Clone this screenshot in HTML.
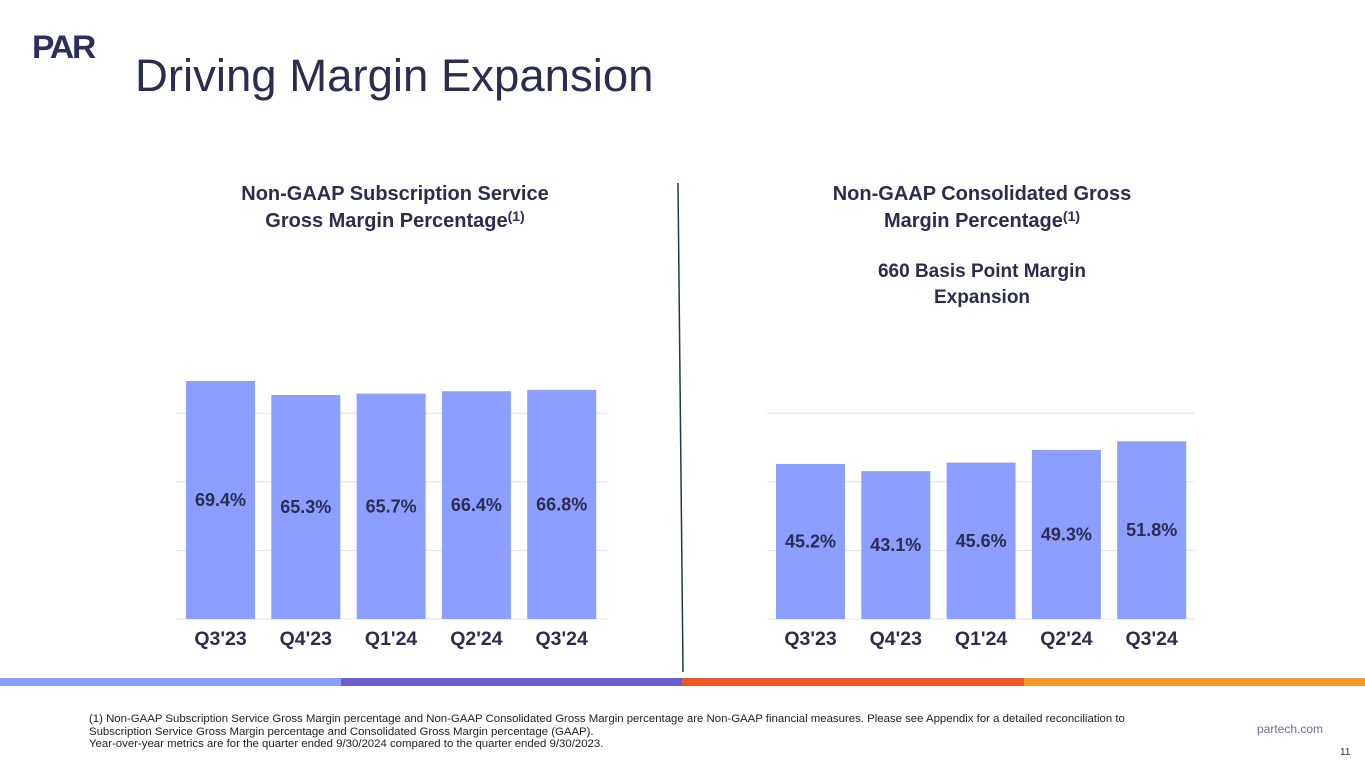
<!DOCTYPE html>
<html><head><meta charset="utf-8"><style>
body{margin:0;width:1365px;height:768px;background:#fff;position:relative;overflow:hidden;font-family:"Liberation Sans",sans-serif;color:#2b2d4f}
.abs{position:absolute}
.ct{font-weight:bold;font-size:20px;text-align:center;line-height:27px;color:#2b2d4f}
sup{font-size:14px;line-height:0;vertical-align:6px}
</style></head><body>
<div class="abs" style="left:32px;top:30px;font-weight:900;font-size:32px;letter-spacing:-2px;color:#2d2f5a;line-height:34px;transform:scaleX(1.05);transform-origin:left">PAR</div>
<div class="abs" style="left:135px;top:49px;font-size:45.5px;line-height:54px;color:#2b2d4f">Driving Margin Expansion</div>
<div class="abs ct" style="left:170px;top:181px;width:450px">Non-GAAP Subscription Service<br>Gross Margin Percentage<sup>(1)</sup></div>
<div class="abs ct" style="left:757px;top:181px;width:450px">Non-GAAP Consolidated Gross<br>Margin Percentage<sup>(1)</sup></div>
<div class="abs ct" style="left:757px;top:259px;width:450px;font-size:19px;line-height:26px">660 Basis Point Margin<br>Expansion</div>
<svg class="abs" style="left:0;top:0" width="1365" height="768">
<line x1="678" y1="183" x2="683" y2="672" stroke="#1f3a4a" stroke-width="1.5"/>
<g id="c1"></g>
<g id="c2"></g>
<rect x="0" y="678" width="341" height="8" fill="#8c9eff"/>
<rect x="341" y="678" width="341" height="8" fill="#6a5fcf"/>
<rect x="682" y="678" width="342" height="8" fill="#f0582a"/>
<rect x="1024" y="678" width="341" height="8" fill="#f49a2a"/>
</svg>
<div class="abs" style="left:89px;top:713px;font-size:11.4px;line-height:12.5px;color:#222">(1) Non-GAAP Subscription Service Gross Margin percentage and Non-GAAP Consolidated Gross Margin percentage are Non-GAAP financial measures. Please see Appendix for a detailed reconciliation to<br>Subscription Service Gross Margin percentage and Consolidated Gross Margin percentage (GAAP).<br>Year-over-year metrics are for the quarter ended 9/30/2024 compared to the quarter ended 9/30/2023.</div>
<div class="abs" style="left:1257px;top:722px;font-size:12px;color:#6a6fa0">partech.com</div>
<div class="abs" style="left:1340px;top:747px;font-size:10px;color:#333">11</div>
<script>
const categories=["Q3'23","Q4'23","Q1'24","Q2'24","Q3'24"];
const subscriptionValues=[69.4,65.3,65.7,66.4,66.8];
const consolidatedValues=[45.2,43.1,45.6,49.3,51.8];
const gridTicks=[0,20,40,60];
const NS='http://www.w3.org/2000/svg';
function mk(t,a,p){const e=document.createElementNS(NS,t);for(const k in a)e.setAttribute(k,a[k]);p.appendChild(e);return e;}
function chart(g,vals,x0,x1,b0){
 const base=619,k=3.43;const y=v=>base-v*k;const pitch=85.3,bw=69;const bx=i=>b0+i*pitch;
 gridTicks.forEach(t=>{const l=mk('line',{x1:x0,x2:x1,y1:y(t),y2:y(t),stroke:'#e3e3e3','stroke-width':1},g);
  
  });
 vals.forEach((v,i)=>{
  const r=mk('rect',{x:bx(i),y:y(v),width:bw,height:v*k,fill:'#8c9eff'},g);
  
  
  const t=mk('text',{x:bx(i)+bw/2,y:(y(v)+base)/2+6,'text-anchor':'middle','font-size':18,'font-weight':'bold',fill:'#2b2d4f','font-family':'Liberation Sans'},g);
  t.textContent=v.toFixed(1)+'%';
  
  
  const c=mk('text',{x:bx(i)+bw/2,y:645,'text-anchor':'middle','font-size':19.5,'font-weight':'bold',fill:'#2b2d4f','font-family':'Liberation Sans'},g);
  c.textContent=categories[i];
  
  
 });
}
chart(document.getElementById('c1'),subscriptionValues,176,607,186);
chart(document.getElementById('c2'),consolidatedValues,767,1195,776);
</script>
</body></html>
